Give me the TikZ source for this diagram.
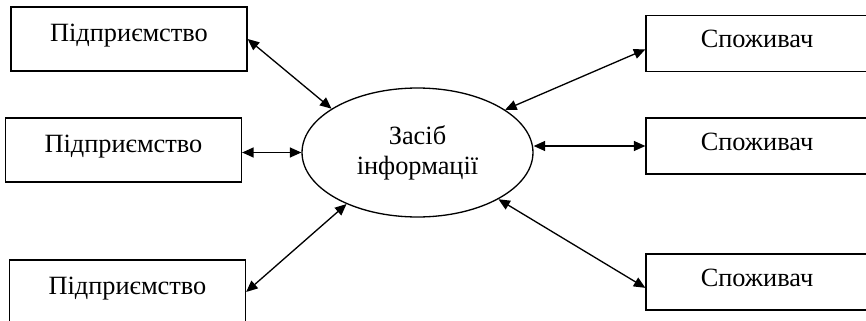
\documentclass[tikz,border=0pt]{standalone}
\usepackage{fontspec}
\setmainfont{Liberation Serif}
\usetikzlibrary{arrows.meta,shapes.geometric}

\begin{document}
\begin{tikzpicture}[x=0.02cm, y=-0.02cm, line width=0.75pt,
    >={Triangle[length=2.3mm,width=2mm]},
    firm/.style={draw, minimum width=4.72cm, minimum height=1.28cm, inner sep=0pt,
                 text height=0.40cm, text depth=0.32cm},
    client/.style={draw, minimum width=4.44cm, minimum height=1.12cm, inner sep=0pt,
                   text height=0.50cm, text depth=0.32cm},
    font=\fontsize{15}{17}\selectfont]
        \useasboundingbox (0,0) rectangle (866,321);

        \node[firm] (firm1) at (129,39) {Підприємство};
        \node[firm] (firm2) at (123.5,150) {Підприємство};
        \node[firm] (firm3) at (127.5,292) {Підприємство};

        \node[draw, ellipse, minimum width=4.62cm, minimum height=2.58cm,
              inner sep=0pt, align=center] (media) at (417.5,152.5)
              {Засіб\\інформації};

        \node[client] (cons1) at (757,43.5) {Споживач};
        \node[client] (cons2) at (757,146) {Споживач};
        \node[client] (cons3) at (757,282) {Споживач};

        \draw[<->] (firm1.east) -- (media.153);
        \draw[<->] (firm2.east |- media.west) -- (media.west);
        \draw[<->] (firm3.east) -- (media.216);

        \draw[<->] (media.26) -- (cons1.183);
        \draw[<->] (media.east |- cons2.west) -- (cons2.west);
        \draw[<->] (media.330) -- (cons3.183);
      \end{tikzpicture}
\end{document}
